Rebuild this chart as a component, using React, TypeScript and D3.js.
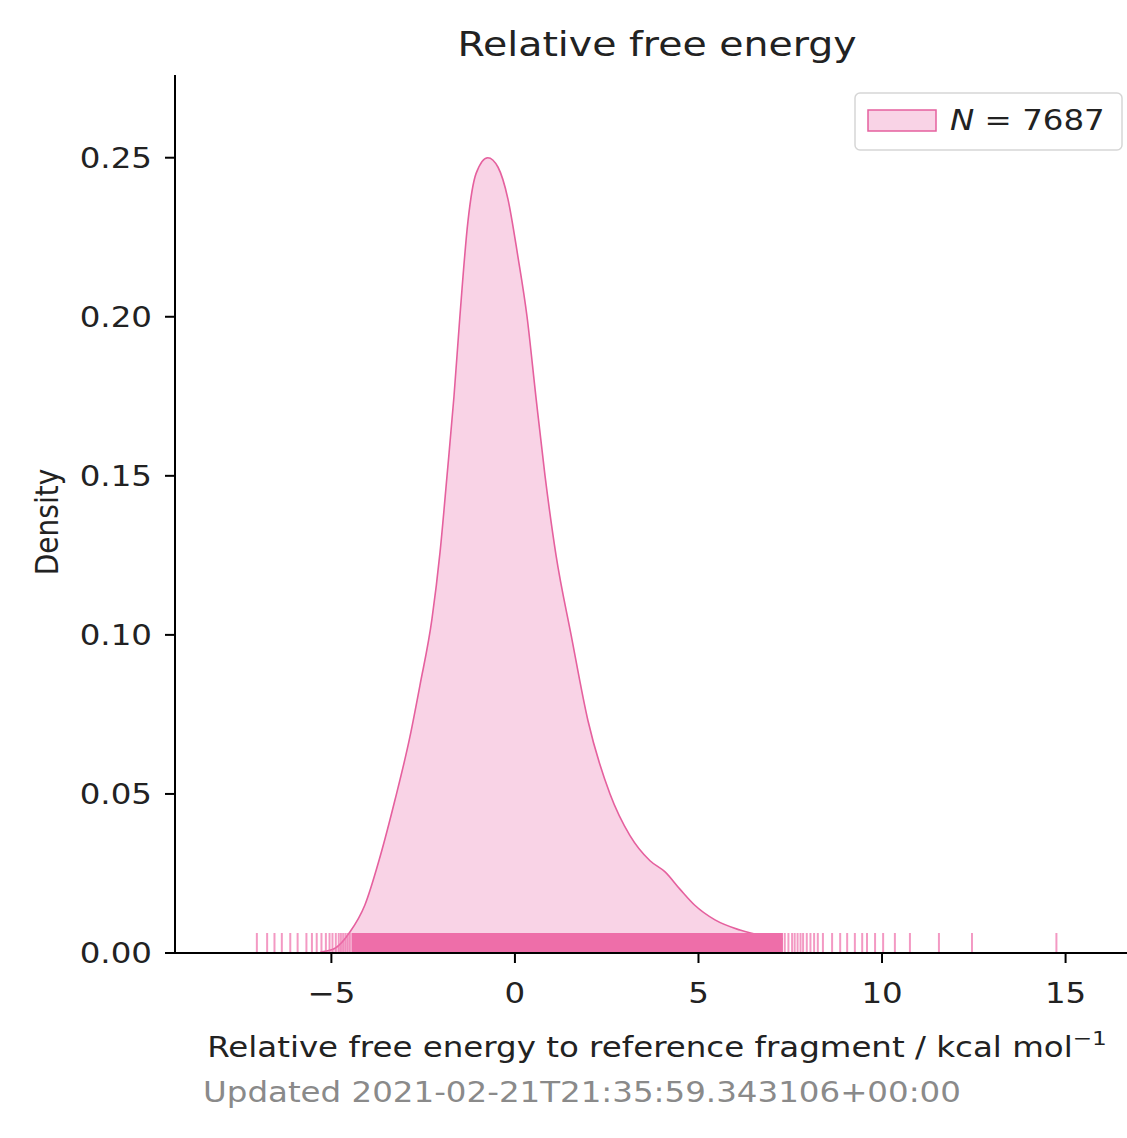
import * as d3 from 'd3';

// KDE curve: [energy, density]
const kdeX = [-5.3, -4.9, -4.5, -4.09, -3.68, -3.27, -2.86, -2.59, -2.26, -2.04, -1.85, -1.66, -1.5, -1.28, -1.06, -0.74, -0.46, -0.19, 0.08, 0.33, 0.57, 0.82, 1.12, 1.53, 1.99, 2.59, 3.13, 3.68, 4.09, 4.5, 4.9, 5.45, 6.13, 6.95, 7.3];
const kdeY = [0.0003, 0.0015, 0.0065, 0.015, 0.03, 0.048, 0.068, 0.084, 0.105, 0.126, 0.15, 0.175, 0.2, 0.23, 0.245, 0.25, 0.247, 0.237, 0.219, 0.2, 0.175, 0.15, 0.125, 0.1, 0.073, 0.05, 0.037, 0.029, 0.0255, 0.02, 0.015, 0.0104, 0.0072, 0.005, 0.0044];

// sparse rug ticks in the tails
const rugSparse = [-7.03, -6.75, -6.55, -6.35, -6.12, -5.92, -5.68, -5.53, -5.4, -5.27, -5.15, -5.05, -4.97, -4.88, -4.8, -4.74, -4.68, -4.62, -4.56, -4.5,
  7.35, 7.45, 7.55, 7.62, 7.7, 7.78, 7.85, 7.95, 8.05, 8.15, 8.25, 8.39, 8.64, 8.86, 9.05, 9.26, 9.46, 9.59, 9.81, 10.03, 10.35, 10.76, 11.55, 12.45, 14.75];
// where the rug ticks overlap into a solid band
const rugDense = [-4.45, 7.3];

const xTicks = [-5, 0, 5, 10, 15];
const yTicks = [0, 0.05, 0.1, 0.15, 0.2, 0.25];

const W = 1127, H = 1138;
const pink = '#e5609e';
const fillPink = '#f9d3e6';
const rugPink = '#ee6ea9';
const font = 'DejaVu Sans, sans-serif';
const sx = 1.16; // the picture's text is a bit wider than it is tall

type TProps = { x: number; y: number; size: number; anchor?: string; fill?: string; children?: any };
const T = ({ x, y, size, anchor = 'start', fill = '#222', children }: TProps) => (
  <text transform={`translate(${x},${y}) scale(${sx},1)`} textAnchor={anchor} fontSize={size} fill={fill}>{children}</text>
);

const App = () => {
  const x = d3.scaleLinear().domain([-9.26, 17.0]).range([175, 1139]);
  const y = d3.scaleLinear().domain([0, 0.276]).range([953, 75]);
  const pts = kdeX.map((v, i) => [v, kdeY[i]] as [number, number]);

  const area = d3.area<[number, number]>()
    .x(d => x(d[0])).y0(y(0)).y1(d => y(d[1]))
    .curve(d3.curveMonotoneX);
  const line = d3.line<[number, number]>()
    .x(d => x(d[0])).y(d => y(d[1]))
    .curve(d3.curveMonotoneX);

  const rugH = 20;
  const fmt = (v: number) => (v < 0 ? '\u2212' + Math.abs(v) : String(v));

  return (
    <svg width={W} height={H} style={{ position: 'absolute', left: 0, top: 0, background: '#fff' }} fontFamily={font}>
      <T x={657} y={56} size={34} anchor="middle">Relative free energy</T>

      <path d={area(pts) || ''} fill={fillPink} />
      <path d={line(pts) || ''} fill="none" stroke={pink} strokeWidth={1.6} />

      <rect x={x(rugDense[0])} width={x(rugDense[1]) - x(rugDense[0])} y={y(0) - rugH} height={rugH} fill={rugPink} />
      {rugSparse.map((v, i) => (
        <line key={i} x1={x(v)} x2={x(v)} y1={y(0)} y2={y(0) - rugH} stroke={rugPink} strokeWidth={2} strokeOpacity={0.7} />
      ))}

      {/* spines */}
      <line x1={x.range()[0]} x2={x.range()[0]} y1={y.range()[1]} y2={y(0)} stroke="#000" strokeWidth={2} />
      <line x1={x.range()[0]} x2={x.range()[1]} y1={y(0)} y2={y(0)} stroke="#000" strokeWidth={2} />

      {yTicks.map(t => (
        <g key={t}>
          <line x1={165} x2={175} y1={y(t)} y2={y(t)} stroke="#000" strokeWidth={2} />
          <T x={152} y={y(t) + 10} size={28} anchor="end">{t.toFixed(2)}</T>
        </g>
      ))}
      {xTicks.map(t => (
        <g key={t}>
          <line x1={x(t)} x2={x(t)} y1={953} y2={963} stroke="#000" strokeWidth={2} />
          <T x={x(t)} y={1003} size={28} anchor="middle">{fmt(t)}</T>
        </g>
      ))}

      <text transform="translate(58,522) rotate(-90) scale(1,1.16)" textAnchor="middle" fontSize={28} fill="#222">Density</text>
      <T x={657} y={1057} size={28} anchor="middle">
        Relative free energy to reference fragment / kcal mol<tspan fontSize={20} dy={-12}>{'\u22121'}</tspan>
      </T>

      <T x={203} y={1102} size={28} fill="#8a8a8a">Updated 2021-02-21T21:35:59.343106+00:00</T>

      {/* legend */}
      <rect x={855} y={93} width={267} height={57} rx={5} fill="#fff" fillOpacity={0.8} stroke="#d6d6d6" strokeWidth={1.5} />
      <rect x={868} y={110} width={68} height={21} fill={fillPink} stroke={pink} strokeWidth={1.5} />
      <T x={950} y={130} size={28}>
        <tspan fontStyle="italic">N</tspan>{' = 7687'}
      </T>
    </svg>
  );
};

export default App;
